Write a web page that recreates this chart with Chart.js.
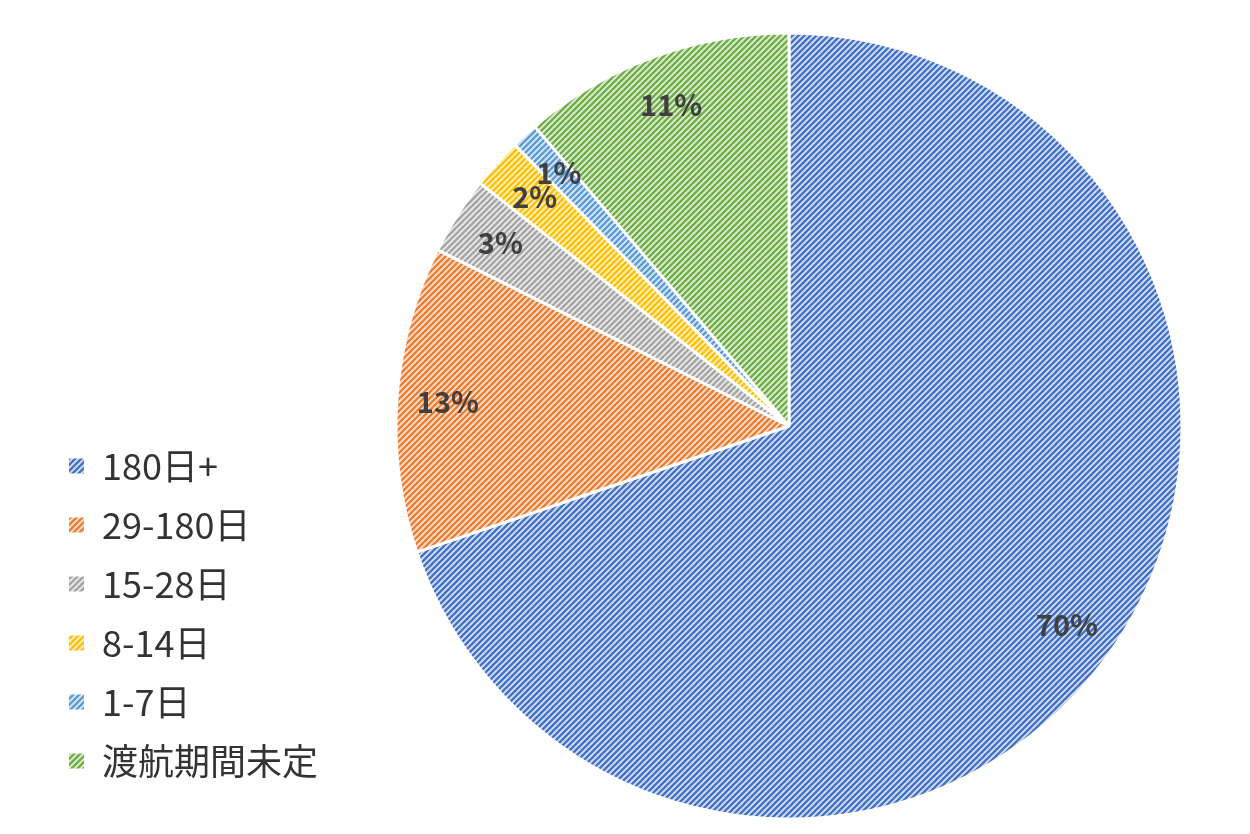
<!DOCTYPE html>
<html>
<head>
<meta charset="utf-8">
<script src="https://cdn.jsdelivr.net/npm/chart.js@4.4.1/dist/chart.umd.min.js"></script>
<style>
  html, body { margin: 0; padding: 0; background: #fff; }
  #wrap { width: 1250px; height: 834px; position: relative; }
</style>
</head>
<body>
<div id="wrap"><canvas id="stay-chart"></canvas></div>
<script>
// Data (share of travellers by planned stay)
const categories = ["180日+", "29-180日", "15-28日", "8-14日", "1-7日", "渡航期間未定"];
const shares = [69.8, 12.6, 3.2, 2.1, 1.1, 11.2];
const stripeColors = ["#4472C4", "#ED7D31", "#A5A5A5", "#FFC000", "#5B9BD5", "#70AD47"];
const tintColors = ["#d6e0f4", "#fbe0cf", "#e9e9e9", "#fff0c4", "#dae8f6", "#dfeed6"];

// Excel-like "upward diagonal" hatch
function makeHatch(fg, bg) {
  const size = 6;
  const c = document.createElement("canvas");
  c.width = size;
  c.height = size;
  const g = c.getContext("2d");
  g.fillStyle = bg;
  g.fillRect(0, 0, size, size);
  g.strokeStyle = fg;
  g.lineWidth = 2.3;
  g.beginPath();
  g.moveTo(-size, size); g.lineTo(size, -size);
  g.moveTo(0, size * 2); g.lineTo(size * 2, 0);
  g.moveTo(-1, size + 1); g.lineTo(size + 1, -1);
  g.stroke();
  return g.createPattern(c, "repeat");
}

const fills = stripeColors.map((col, i) => makeHatch(col, tintColors[i]));

// percentage labels placed along each slice's middle angle
const sliceLabels = {
  id: "sliceLabels",
  afterDatasetsDraw(chart) {
    const meta = chart.getDatasetMeta(0);
    const total = shares.reduce((a, b) => a + b, 0);
    const ctx = chart.ctx;
    ctx.save();
    ctx.font = "bold 29px 'Noto Sans CJK JP', 'Noto Sans', sans-serif";
    ctx.fillStyle = "#404040";
    ctx.textAlign = "center";
    ctx.textBaseline = "middle";
    meta.data.forEach((arc, i) => {
      const p = arc.getProps(["x", "y", "startAngle", "endAngle", "outerRadius"], true);
      const mid = (p.startAngle + p.endAngle) / 2;
      const r = p.outerRadius * 0.87;
      const txt = Math.round(shares[i] / total * 100) + "%";
      ctx.fillText(txt, p.x + Math.cos(mid) * r, p.y + Math.sin(mid) * r);
    });
    ctx.restore();
  }
};

const ctx = document.getElementById("stay-chart").getContext("2d");
const stayChart = new Chart(ctx, {
  type: "pie",
  data: {
    labels: categories,
    datasets: [
      {
        data: shares,
        backgroundColor: fills,
        borderColor: "#ffffff",
        borderWidth: 3,
        radius: 393,
        clip: false,
      },
    ],
  },
  options: {
    responsive: true,
    maintainAspectRatio: false,
    animation: false,
    events: [],
    layout: {
      padding: { left: 46, right: -16, top: 50, bottom: 32 },
    },
    plugins: {
      tooltip: { enabled: false },
      legend: {
        position: "left",
        align: "end",
        labels: {
          boxWidth: 15,
          boxHeight: 15,
          padding: 23,
          color: "#333333",
          font: { family: "'Noto Sans CJK JP', 'Noto Sans', sans-serif", size: 36 },
          generateLabels(chart) {
            const items = Chart.controllers.pie.overrides.plugins.legend.labels.generateLabels(chart);
            items.forEach((it) => { it.lineWidth = 0; it.strokeStyle = "rgba(0,0,0,0)"; });
            return items;
          },
        },
      },
    },
  },
  plugins: [sliceLabels],
});
</script>
</body>
</html>
